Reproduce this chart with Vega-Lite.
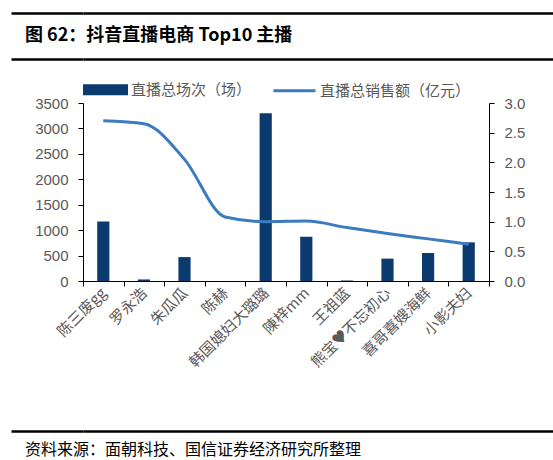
{
  "$schema": "https://vega.github.io/schema/vega-lite/v6.json",
  "padding": {"left": 9, "top": 11, "right": 0, "bottom": 0},
  "spacing": 6,
  "resolve": {"scale": {"color": "independent"}, "legend": {"color": "independent"}},
  "datasets": {
    "anchors": [
      {"name": "陈三废gg", "sessions": 1170, "sales": 2.7},
      {"name": "罗永浩", "sessions": 30, "sales": 2.65},
      {"name": "朱瓜瓜", "sessions": 470, "sales": 2.05},
      {"name": "陈赫", "sessions": 0, "sales": 1.08},
      {"name": "韩国媳妇大璐璐", "sessions": 3300, "sales": 1.0},
      {"name": "陳梓mm", "sessions": 870, "sales": 1.01},
      {"name": "王祖蓝", "sessions": 10, "sales": 0.9},
      {"name": "熊宝♥不忘初心", "sessions": 440, "sales": 0.8},
      {"name": "喜哥喜嫂海鲜", "sessions": 550, "sales": 0.71},
      {"name": "小影夫妇", "sessions": 760, "sales": 0.62}
    ]
  },
  "vconcat": [
    {
      "width": 472,
      "height": 46,
      "data": {"values": [{"label": "图 62：抖音直播电商 Top10 主播"}]},
      "mark": {
        "type": "text",
        "align": "left",
        "baseline": "middle",
        "fontSize": 18,
        "fontWeight": "bold",
        "font": "Noto Sans CJK SC",
        "color": "#000000",
        "dx": -58
      },
      "encoding": {
        "x": {"datum": 0, "type": "quantitative", "scale": {"domain": [0, 1]}, "axis": null},
        "y": {
          "datum": 0.5,
          "type": "quantitative",
          "scale": {"domain": [0, 1]},
          "axis": {
            "values": [0, 1],
            "grid": true,
            "gridColor": "#000000",
            "gridWidth": 2.5,
            "gridOpacity": 1,
            "domain": false,
            "ticks": true,
            "tickSize": 72,
            "tickColor": "#000000",
            "tickWidth": 2.5,
            "labels": false,
            "title": null,
            "minExtent": 0
          }
        },
        "text": {"field": "label"}
      }
    },
    {
      "width": 406,
      "height": 178,
      "data": {"name": "anchors"},
      "encoding": {
        "x": {
          "field": "name",
          "type": "nominal",
          "sort": null,
          "scale": {"paddingInner": 0, "paddingOuter": 0},
          "axis": {
            "title": null,
            "labelAngle": -45,
            "labelAlign": "right",
            "labelBaseline": "middle",
            "labelFont": "Noto Sans CJK SC",
            "labelFontSize": 15,
            "labelColor": "#595959",
            "labelPadding": 4,
            "labelDx": 4,
            "tickBand": "extent",
            "tickSize": 5,
            "tickColor": "#000000",
            "domainColor": "#000000",
            "minExtent": 142
          }
        }
      },
      "layer": [
        {
          "mark": {"type": "bar", "width": {"band": 0.3}},
          "encoding": {
            "y": {
              "field": "sessions",
              "type": "quantitative",
              "scale": {"domain": [0, 3500]},
              "axis": {
                "title": null,
                "values": [0, 500, 1000, 1500, 2000, 2500, 3000, 3500],
                "format": "d",
                "grid": false,
                "labelFont": "Liberation Sans",
                "labelFontSize": 15,
                "labelColor": "#595959",
                "labelPadding": 10,
                "tickSize": 5,
                "tickColor": "#000000",
                "domainColor": "#000000",
                "minExtent": 72
              }
            },
            "color": {
              "datum": "直播总场次（场）",
              "scale": {
                "domain": ["直播总场次（场）", "直播总销售额（亿元）"],
                "range": ["#0a3a6e", "#3b7bbf"]
              },
              "legend": {
                "orient": "top",
                "title": null,
                "direction": "horizontal",
                "offset": 3,
                "padding": 0,
                "labelFont": "Noto Sans CJK SC",
                "labelFontSize": 15,
                "labelColor": "#595959",
                "labelOffset": 3,
                "columnPadding": 15,
                "symbolSize": 1764,
                "encode": {
                  "symbols": {
                    "update": {
                      "shape": {"signal": "datum.value === '直播总场次（场）' ? 'M-1,-0.19H1V0.19H-1Z' : 'stroke'"},
                      "fill": {"signal": "datum.value === '直播总场次（场）' ? '#0a3a6e' : 'transparent'"},
                      "stroke": {"signal": "datum.value === '直播总场次（场）' ? 'transparent' : '#3b7bbf'"},
                      "strokeWidth": {"value": 3},
                      "opacity": {"value": 1}
                    }
                  }
                }
              }
            }
          }
        },
        {
          "mark": {"type": "line", "interpolate": "monotone", "strokeWidth": 3},
          "encoding": {
            "y": {
              "field": "sales",
              "type": "quantitative",
              "scale": {"domain": [0, 3]},
              "axis": {
                "title": null,
                "orient": "right",
                "values": [0, 0.5, 1, 1.5, 2, 2.5, 3],
                "format": ".1f",
                "grid": false,
                "labelFont": "Liberation Sans",
                "labelFontSize": 15,
                "labelColor": "#595959",
                "labelPadding": 10,
                "tickSize": 5,
                "tickColor": "#000000",
                "domainColor": "#000000"
              }
            },
            "color": {"datum": "直播总销售额（亿元）"}
          }
        }
      ],
      "resolve": {"scale": {"y": "independent"}}
    },
    {
      "width": 472,
      "height": 30,
      "data": {"values": [{"label": "资料来源：面朝科技、国信证券经济研究所整理"}]},
      "mark": {
        "type": "text",
        "align": "left",
        "baseline": "middle",
        "fontSize": 16,
        "font": "Noto Sans CJK SC",
        "color": "#000000",
        "dx": -58
      },
      "encoding": {
        "x": {"datum": 0, "type": "quantitative", "scale": {"domain": [0, 1]}, "axis": null},
        "y": {
          "datum": 0.37,
          "type": "quantitative",
          "scale": {"domain": [0, 1]},
          "axis": {
            "values": [1],
            "grid": true,
            "gridColor": "#000000",
            "gridWidth": 2.5,
            "gridOpacity": 1,
            "domain": false,
            "ticks": true,
            "tickSize": 72,
            "tickColor": "#000000",
            "tickWidth": 2.5,
            "labels": false,
            "title": null,
            "minExtent": 0
          }
        },
        "text": {"field": "label"}
      }
    }
  ],
  "config": {
    "view": {"stroke": null},
    "font": "Noto Sans CJK SC"
  }
}
